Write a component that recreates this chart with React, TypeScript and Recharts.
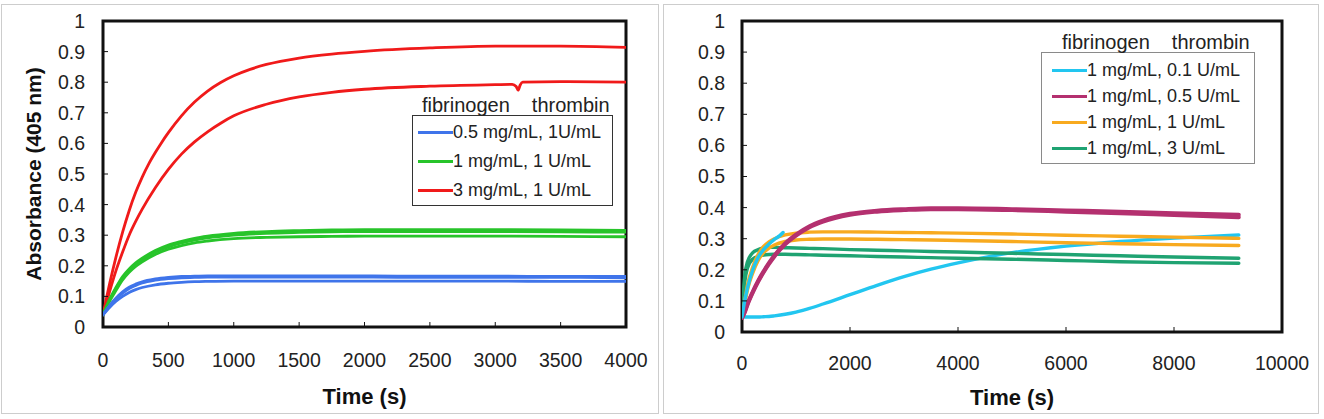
import React from 'react';
import { LineChart, Line, XAxis, YAxis, ReferenceArea, Legend, Label } from 'recharts';

const FONT = '"Liberation Sans", Arial, Helvetica, sans-serif';
const INK = '#222';

// axis ticks
const absTicks = [0, 0.1, 0.2, 0.3, 0.4, 0.5, 0.6, 0.7, 0.8, 0.9, 1];
const leftTimeTicks = [0, 500, 1000, 1500, 2000, 2500, 3000, 3500, 4000];
const rightTimeTicks = [0, 2000, 4000, 6000, 8000, 10000];

// left panel: fibrinogen series at 1 U/mL thrombin (time in s)
const tLeft = [0, 50, 100, 150, 200, 250, 300, 400, 500, 600, 700, 800, 1000, 1250, 1500, 1750, 2000, 2500, 3000, 3500, 4000];
const blueA = [0.04, 0.07, 0.095, 0.115, 0.13, 0.14, 0.148, 0.157, 0.162, 0.165, 0.166, 0.167, 0.167, 0.167, 0.167, 0.167, 0.167, 0.166, 0.166, 0.165, 0.165];
const blueB = [0.04, 0.068, 0.092, 0.111, 0.126, 0.136, 0.144, 0.153, 0.158, 0.161, 0.162, 0.163, 0.163, 0.163, 0.163, 0.163, 0.163, 0.162, 0.162, 0.162, 0.161];
const blueC = [0.04, 0.064, 0.084, 0.1, 0.113, 0.122, 0.129, 0.138, 0.143, 0.146, 0.148, 0.149, 0.15, 0.15, 0.15, 0.15, 0.15, 0.15, 0.15, 0.149, 0.149];
const greenA = [0.04, 0.09, 0.13, 0.165, 0.19, 0.21, 0.225, 0.25, 0.268, 0.28, 0.29, 0.297, 0.306, 0.312, 0.315, 0.317, 0.318, 0.318, 0.318, 0.317, 0.316];
const greenB = [0.04, 0.087, 0.126, 0.16, 0.185, 0.205, 0.22, 0.245, 0.262, 0.275, 0.284, 0.291, 0.3, 0.306, 0.309, 0.311, 0.312, 0.312, 0.312, 0.311, 0.31];
const greenC = [0.04, 0.084, 0.12, 0.154, 0.179, 0.198, 0.213, 0.237, 0.254, 0.266, 0.275, 0.281, 0.289, 0.293, 0.295, 0.296, 0.297, 0.297, 0.297, 0.296, 0.295];
const tRedA = [0, 50, 100, 150, 200, 250, 300, 350, 400, 450, 500, 600, 700, 800, 900, 1000, 1125, 1250, 1500, 1750, 2000, 2500, 3000, 3500, 4000];
const redA = [0.04, 0.14, 0.23, 0.31, 0.38, 0.44, 0.49, 0.533, 0.57, 0.604, 0.635, 0.69, 0.735, 0.771, 0.799, 0.821, 0.842, 0.858, 0.879, 0.892, 0.901, 0.912, 0.918, 0.918, 0.914];
// second 3 mg/mL run has a small notch near 3170 s
const tRedB = [0, 50, 100, 150, 200, 250, 300, 400, 500, 600, 700, 800, 900, 1000, 1250, 1500, 1750, 2000, 2500, 3000, 3130, 3160, 3175, 3190, 3210, 3500, 4000];
const redB = [0.04, 0.115, 0.185, 0.245, 0.3, 0.345, 0.385, 0.455, 0.515, 0.565, 0.605, 0.638, 0.666, 0.69, 0.728, 0.752, 0.767, 0.777, 0.787, 0.792, 0.793, 0.786, 0.774, 0.79, 0.8, 0.802, 0.8];

// right panel: 1 mg/mL fibrinogen, varying thrombin
const tRight = [0, 50, 100, 200, 300, 400, 500, 600, 800, 1000, 1250, 1500, 2000, 2500, 3000, 3500, 4000, 5000, 6000, 7000, 8000, 9200];
const cyanLong = [0.048, 0.048, 0.048, 0.048, 0.048, 0.049, 0.05, 0.052, 0.057, 0.064, 0.076, 0.09, 0.12, 0.15, 0.178, 0.202, 0.222, 0.255, 0.276, 0.291, 0.302, 0.312];
const tCyanShort = [0, 50, 100, 200, 300, 400, 500, 600, 700, 760];
const cyanShort = [0.048, 0.1, 0.14, 0.2, 0.24, 0.265, 0.283, 0.298, 0.31, 0.32];
const magentaA = [0.045, 0.065, 0.09, 0.13, 0.165, 0.195, 0.222, 0.246, 0.285, 0.313, 0.34, 0.358, 0.38, 0.39, 0.395, 0.398, 0.398, 0.395, 0.391, 0.387, 0.382, 0.377];
const magentaB = [0.045, 0.063, 0.087, 0.127, 0.162, 0.192, 0.219, 0.243, 0.282, 0.31, 0.337, 0.355, 0.377, 0.387, 0.392, 0.395, 0.395, 0.392, 0.387, 0.382, 0.376, 0.369];
const orangeA = [0.048, 0.1, 0.15, 0.21, 0.25, 0.275, 0.29, 0.3, 0.312, 0.318, 0.321, 0.322, 0.322, 0.321, 0.32, 0.319, 0.318, 0.315, 0.311, 0.308, 0.305, 0.301];
const orangeB = [0.048, 0.09, 0.135, 0.19, 0.23, 0.255, 0.27, 0.28, 0.291, 0.296, 0.298, 0.299, 0.299, 0.298, 0.297, 0.296, 0.294, 0.291, 0.287, 0.284, 0.281, 0.278];
const tealA = [0.05, 0.18, 0.225, 0.255, 0.265, 0.27, 0.272, 0.272, 0.271, 0.27, 0.269, 0.268, 0.265, 0.263, 0.261, 0.259, 0.257, 0.253, 0.249, 0.245, 0.241, 0.237];
const tealB = [0.05, 0.16, 0.205, 0.235, 0.243, 0.247, 0.249, 0.25, 0.25, 0.249, 0.248, 0.247, 0.245, 0.243, 0.241, 0.239, 0.237, 0.234, 0.23, 0.226, 0.223, 0.221];

const BLUE = '#3f74ea';
const GREEN = '#27c42a';
const RED = '#f01a1a';
const CYAN = '#22c6f0';
const MAGENTA = '#b4306f';
const ORANGE = '#f8aa1f';
const TEAL = '#1fa372';

type Pt = { t: number; a: number };
type Curve = { key: string; data: Pt[]; color: string; width: number };
type LegendItem = { label: string; color: string };

const zip = (t: number[], a: number[]): Pt[] => t.map((x, i) => ({ t: x, a: a[i] }));

const leftCurves: Curve[] = [
  { key: 'redA', data: zip(tRedA, redA), color: RED, width: 2.8 },
  { key: 'redB', data: zip(tRedB, redB), color: RED, width: 2.8 },
  { key: 'greenA', data: zip(tLeft, greenA), color: GREEN, width: 2.8 },
  { key: 'greenB', data: zip(tLeft, greenB), color: GREEN, width: 2.8 },
  { key: 'greenC', data: zip(tLeft, greenC), color: GREEN, width: 2.8 },
  { key: 'blueA', data: zip(tLeft, blueA), color: BLUE, width: 2.8 },
  { key: 'blueB', data: zip(tLeft, blueB), color: BLUE, width: 2.8 },
  { key: 'blueC', data: zip(tLeft, blueC), color: BLUE, width: 2.8 },
];

const rightCurves: Curve[] = [
  { key: 'cyanLong', data: zip(tRight, cyanLong), color: CYAN, width: 3.4 },
  { key: 'tealA', data: zip(tRight, tealA), color: TEAL, width: 3.4 },
  { key: 'tealB', data: zip(tRight, tealB), color: TEAL, width: 3.4 },
  { key: 'orangeA', data: zip(tRight, orangeA), color: ORANGE, width: 3.4 },
  { key: 'orangeB', data: zip(tRight, orangeB), color: ORANGE, width: 3.4 },
  { key: 'magentaA', data: zip(tRight, magentaA), color: MAGENTA, width: 4 },
  { key: 'magentaB', data: zip(tRight, magentaB), color: MAGENTA, width: 4 },
  { key: 'cyanShort', data: zip(tCyanShort, cyanShort), color: CYAN, width: 3.4 },
];

const leftLegend: LegendItem[] = [
  { label: '0.5 mg/mL, 1U/mL', color: BLUE },
  { label: '1 mg/mL, 1 U/mL', color: GREEN },
  { label: '3 mg/mL, 1 U/mL', color: RED },
];

const rightLegend: LegendItem[] = [
  { label: '1 mg/mL, 0.1 U/mL', color: CYAN },
  { label: '1 mg/mL, 0.5 U/mL', color: MAGENTA },
  { label: '1 mg/mL, 1 U/mL', color: ORANGE },
  { label: '1 mg/mL, 3 U/mL', color: TEAL },
];

function LegendBox({ items, rowH, boxW, border, padTitle, padSwatch, pad }: {
  items: LegendItem[]; rowH: number; boxW: number; border: string; padTitle: number; padSwatch: number; pad: string;
}) {
  return (
    <div style={{ fontFamily: FONT, fontSize: 18, color: INK }}>
      <div style={{ display: 'flex', paddingLeft: padTitle, fontSize: 20, lineHeight: '20px', height: 20, whiteSpace: 'nowrap' }}>
        <span>fibrinogen</span>
        <span style={{ marginLeft: 22 }}>thrombin</span>
      </div>
      <div style={{ border: `1px solid ${border}`, width: boxW, padding: pad, background: '#fff' }}>
        {items.map((it) => (
          <div key={it.label} style={{ display: 'flex', alignItems: 'center', height: rowH, whiteSpace: 'nowrap' }}>
            <span style={{ display: 'inline-block', width: 35, height: 3, background: it.color, marginLeft: padSwatch }} />
            <span>{it.label}</span>
          </div>
        ))}
      </div>
    </div>
  );
}

function Panel(props: {
  left: number; xMax: number; xTicks: number[]; curves: Curve[]; yAxisW: number;
  margin: { top: number; right: number; bottom: number; left: number };
  yTickMargin: number; xTickMargin: number; timeY: number; yTitle?: string;
  legend: React.ReactNode; legendPos: { left: number; top: number };
}) {
  const { left, xMax, xTicks, curves, yAxisW, margin, yTickMargin, xTickMargin, timeY, yTitle, legend, legendPos } = props;
  const tickStyle = { fill: INK, fontSize: 19.5, fontFamily: FONT };
  return (
    <div style={{ position: 'absolute', left, top: 0, width: 662, height: 419 }}>
      <LineChart width={662} height={419} margin={margin}>
        <XAxis
          type="number"
          dataKey="t"
          domain={[0, xMax]}
          ticks={xTicks}
          allowDataOverflow
          axisLine={false}
          tickLine={{ stroke: '#111' }}
          tickSize={-5}
          tickMargin={xTickMargin}
          height={55}
          tick={tickStyle}
        >
          <Label
            content={(p: any) => {
              const vb = p.viewBox;
              return (
                <text x={vb.x + vb.width / 2} y={vb.y + timeY} textAnchor="middle" dominantBaseline="central"
                  style={{ fontFamily: FONT, fontSize: 22, fontWeight: 700 }} fill="#111">
                  Time (s)
                </text>
              );
            }}
          />
        </XAxis>
        <YAxis
          type="number"
          dataKey="a"
          domain={[0, 1]}
          ticks={absTicks}
          allowDataOverflow
          axisLine={false}
          tickLine={{ stroke: '#111' }}
          tickSize={-5}
          tickMargin={yTickMargin}
          width={yAxisW}
          tick={tickStyle}
        >
          {yTitle && (
            <Label
              content={(p: any) => {
                const vb = p.viewBox;
                return (
                  <text x={0} y={0} transform={`translate(${vb.x + 33}, ${vb.y + vb.height / 2}) rotate(-90)`}
                    textAnchor="middle" dominantBaseline="central"
                    style={{ fontFamily: FONT, fontSize: 21, fontWeight: 700 }} fill="#111">
                    {yTitle}
                  </text>
                );
              }}
            />
          )}
        </YAxis>
        {curves.map((c) => (
          <Line
            key={c.key}
            data={c.data}
            dataKey="a"
            type="monotone"
            stroke={c.color}
            strokeWidth={c.width}
            strokeLinecap="round"
            dot={false}
            activeDot={false}
            isAnimationActive={false}
            legendType="none"
          />
        ))}
        <ReferenceArea x1={0} x2={xMax} y1={0} y2={1} fill="none" stroke="#111" strokeWidth={3} ifOverflow="visible" />
        <Legend
          layout="vertical"
          align="center"
          verticalAlign="middle"
          content={() => legend}
          wrapperStyle={{ left: legendPos.left, top: legendPos.top, width: 'auto', height: 'auto' }}
        />
      </LineChart>
    </div>
  );
}

export default function App() {
  return (
    <div style={{ position: 'fixed', left: 0, top: 0, width: 1324, height: 419, background: '#fff', overflow: 'hidden' }}>
      <div style={{ position: 'absolute', left: 1, top: 4, width: 656, height: 408, border: '1.5px solid #cdcdcd' }} />
      <div style={{ position: 'absolute', left: 663, top: 4, width: 654, height: 408, border: '1.5px solid #cdcdcd' }} />
      <Panel
        left={0}
        xMax={4000}
        xTicks={leftTimeTicks}
        curves={leftCurves}
        yAxisW={103}
        margin={{ top: 21, right: 36, bottom: 37, left: 0 }}
        yTickMargin={23}
        xTickMargin={31}
        timeY={69}
        yTitle="Absorbance (405 nm)"
        legend={<LegendBox items={leftLegend} rowH={29} boxW={199} border="#333" padTitle={10} padSwatch={5} pad="2px 0 0 0" />}
        legendPos={{ left: 412, top: 95 }}
      />
      <Panel
        left={662}
        xMax={10000}
        xTicks={rightTimeTicks}
        curves={rightCurves}
        yAxisW={80}
        margin={{ top: 21, right: 42, bottom: 32, left: 0 }}
        yTickMargin={22}
        xTickMargin={29}
        timeY={65}
        legend={<LegendBox items={rightLegend} rowH={26} boxW={212} border="#8a8a8a" padTitle={21} padSwatch={10} pad="4px 0 2px 0" />}
        legendPos={{ left: 379, top: 32 }}
      />
    </div>
  );
}
